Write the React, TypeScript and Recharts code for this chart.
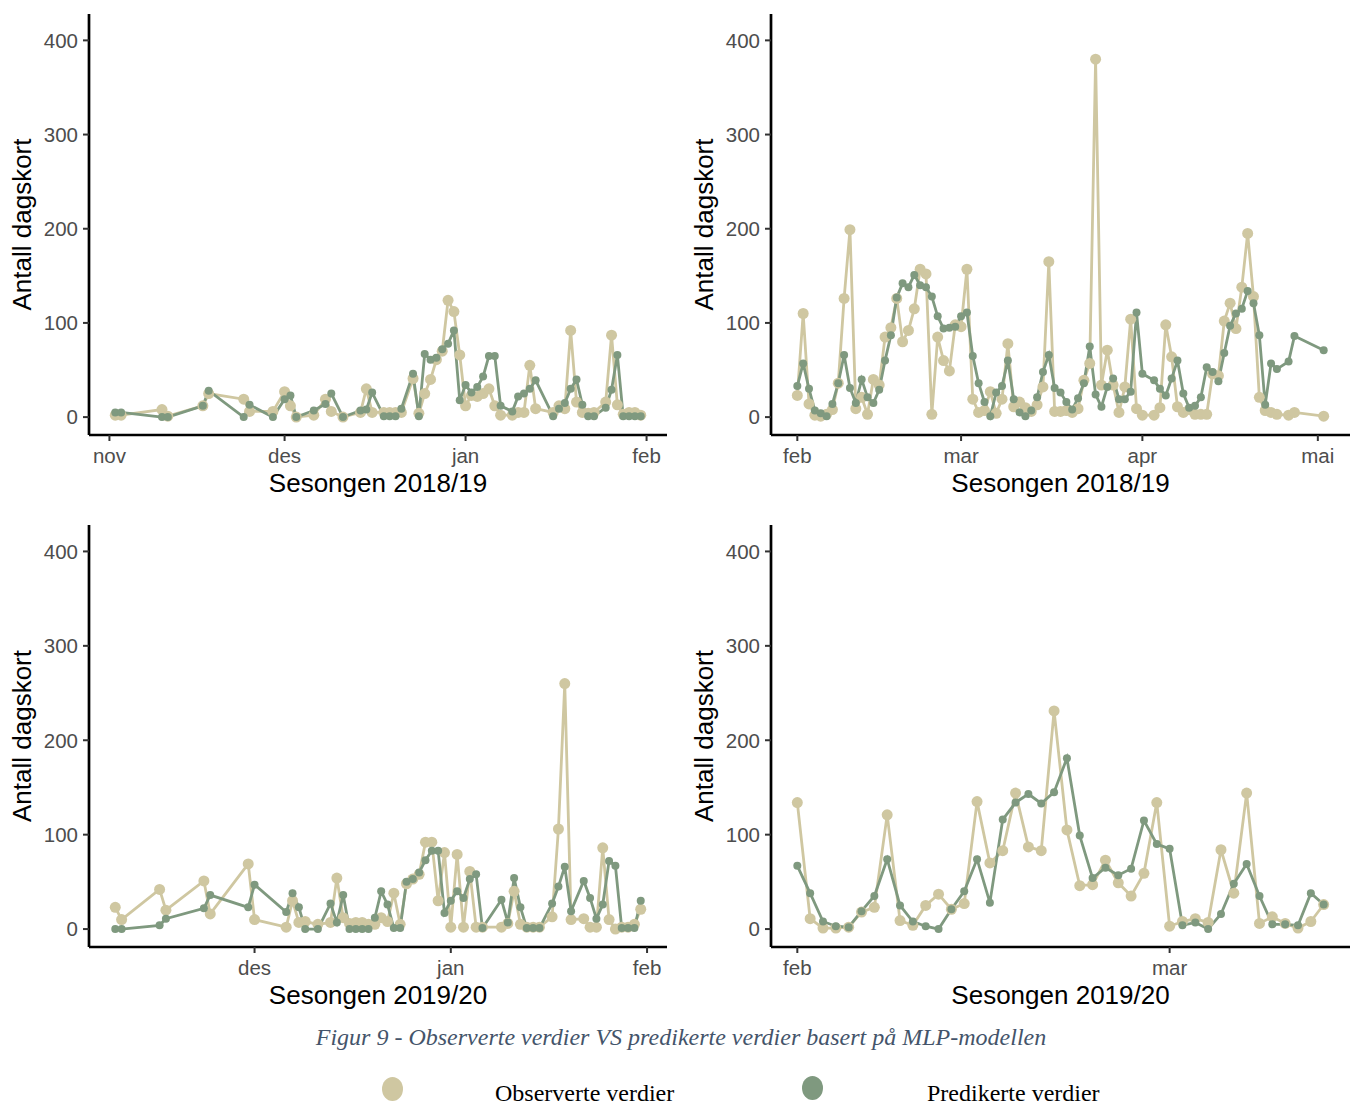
import { LineChart, Line, XAxis, YAxis } from 'recharts'

const OBS = '#cfc7a1'
const PRED = '#7f997f'
const FONT = '"Liberation Sans", Arial, sans-serif'
const SERIF = '"Liberation Serif", "Times New Roman", serif'

const yTicks = [0, 100, 200, 300, 400]

// Sesongen 2018/19, nov-jan (day 0 = 1. nov)
const p1Days = [1, 2, 9, 10, 16, 17, 23, 24, 28, 30, 31, 32, 35, 37, 38, 40, 43, 44, 45, 47, 48, 49, 50, 52, 53, 54, 55, 56, 57, 58, 59, 60, 61, 62, 63, 64, 65, 66, 67, 69, 70, 71, 72, 73, 76, 77, 78, 79, 80, 81, 82, 83, 85, 86, 87, 88, 89, 90, 91]
const p1Obs = [2, 2, 8, 1, 12, 25, 19, 6, 6, 27, 12, 0, 2, 19, 6, 0, 5, 30, 5, 5, 5, 5, 5, 41, 4, 25, 40, 61, 70, 124, 112, 66, 12, 23, 22, 25, 30, 12, 2, 2, 5, 5, 55, 9, 5, 12, 9, 92, 16, 5, 4, 5, 16, 87, 13, 3, 5, 5, 2]
const p1Pred = [5, 5, 0, 0, 12, 28, 0, 13, 0, 19, 23, 0, 7, 14, 25, 0, 7, 8, 26, 1, 1, 1, 9, 46, 1, 67, 61, 63, 72, 78, 92, 18, 34, 26, 32, 43, 65, 65, 12, 6, 22, 25, 30, 39, 1, 9, 15, 30, 40, 13, 1, 1, 10, 29, 66, 1, 1, 1, 1]
const p1Ticks = [0, 30, 61, 92]
const p1Labels = ['nov', 'des', 'jan', 'feb']

// Sesongen 2018/19, feb-apr (day 0 = 1. feb)
const p2Days = [0, 1, 2, 3, 4, 5, 6, 7, 8, 9, 10, 11, 12, 13, 14, 15, 16, 17, 18, 19, 20, 21, 22, 23, 24, 25, 26, 27, 28, 29, 30, 31, 32, 33, 34, 35, 36, 37, 38, 39, 40, 41, 42, 43, 44, 45, 46, 47, 48, 49, 50, 51, 52, 53, 54, 55, 56, 57, 58, 59, 61, 62, 63, 64, 65, 66, 67, 68, 69, 70, 71, 72, 73, 74, 75, 76, 77, 78, 79, 80, 81, 82, 84, 85, 90]
const p2Obs = [23, 110, 14, 2, 1, 3, 8, 36, 126, 199, 9, 21, 3, 40, 34, 85, 95, 126, 80, 92, 115, 157, 152, 3, 85, 60, 49, 98, 96, 157, 19, 5, 7, 27, 4, 19, 78, 11, 16, 10, 6, 13, 32, 165, 6, 6, 7, 5, 9, 39, 57, 380, 34, 71, 34, 5, 32, 104, 9, 2, 2, 10, 98, 64, 11, 5, 8, 3, 3, 3, 46, 44, 102, 121, 94, 138, 195, 128, 21, 7, 5, 3, 2, 5, 1]
const p2Pred = [33, 57, 30, 7, 4, 1, 14, 36, 66, 31, 15, 40, 21, 15, 29, 60, 87, 127, 142, 138, 151, 140, 138, 128, 107, 94, 95, 96, 107, 111, 65, 36, 16, 1, 26, 33, 60, 19, 5, 1, 7, 21, 48, 66, 31, 26, 16, 8, 20, 36, 75, 24, 11, 32, 41, 19, 19, 27, 111, 46, 39, 30, 23, 41, 60, 25, 10, 12, 21, 53, 48, 38, 68, 97, 110, 115, 134, 121, 87, 13, 57, 51, 59, 86, 71]
const p2Ticks = [0, 28, 59, 89]
const p2Labels = ['feb', 'mar', 'apr', 'mai']

// Sesongen 2019/20, nov-jan (day 0 = 1. des)
const p3Days = [-22, -21, -15, -14, -8, -7, -1, 0, 5, 6, 7, 8, 10, 12, 13, 14, 15, 16, 17, 18, 19, 20, 21, 22, 23, 24, 25, 26, 27, 28, 29, 30, 31, 32, 33, 34, 35, 36, 39, 40, 41, 42, 43, 44, 45, 47, 48, 49, 50, 52, 53, 54, 55, 56, 57, 58, 59, 60, 61]
const p3Obs = [23, 10, 42, 20, 51, 16, 69, 10, 2, 30, 7, 8, 5, 7, 54, 12, 6, 7, 7, 5, 5, 12, 8, 38, 5, 48, 53, 58, 92, 92, 30, 81, 2, 79, 2, 61, 2, 2, 2, 6, 40, 5, 2, 2, 2, 13, 106, 260, 10, 11, 2, 2, 86, 10, 0, 2, 2, 5, 21]
const p3Pred = [0, 0, 4, 11, 22, 36, 23, 47, 18, 38, 23, 0, 0, 27, 7, 36, 0, 0, 0, 0, 12, 40, 26, 1, 1, 50, 53, 60, 73, 83, 83, 17, 30, 40, 33, 53, 58, 1, 31, 7, 54, 23, 1, 1, 1, 27, 45, 66, 19, 51, 33, 11, 26, 72, 67, 1, 1, 1, 30]
const p3Ticks = [0, 31, 62]
const p3Labels = ['des', 'jan', 'feb']

// Sesongen 2019/20, feb-mar (day 0 = 1. feb)
const p4Days = [0, 1, 2, 3, 4, 5, 6, 7, 8, 9, 10, 11, 12, 13, 14, 15, 16, 17, 18, 19, 20, 21, 22, 23, 24, 25, 26, 27, 28, 29, 30, 31, 32, 33, 34, 35, 36, 37, 38, 39, 40, 41]
const p4Obs = [134, 11, 1, 1, 2, 18, 23, 121, 9, 4, 25, 37, 21, 27, 135, 70, 83, 144, 87, 83, 231, 105, 46, 47, 73, 49, 35, 59, 134, 3, 8, 11, 7, 84, 38, 144, 6, 13, 6, 1, 8, 26]
const p4Pred = [67, 38, 8, 3, 2, 19, 35, 74, 25, 8, 3, 0, 21, 40, 74, 28, 116, 134, 143, 133, 145, 181, 99, 54, 65, 57, 64, 115, 90, 85, 4, 7, 0, 16, 48, 69, 35, 5, 5, 4, 38, 26]
const p4Ticks = [0, 29]
const p4Labels = ['feb', 'mar']

const toRows = (days: number[], obs: number[], pred: number[]) =>
  days.map((day, i) => ({ day, obs: obs[i], pred: pred[i] }))

interface PanelProps {
  left: number
  top: number
  plotW: number
  plotH: number
  days: number[]
  obs: number[]
  pred: number[]
  ticks: number[]
  labels: string[]
  title: string
}

function Panel({ left, top, plotW, plotH, days, obs, pred, ticks, labels, title }: PanelProps) {
  const rows = toRows(days, obs, pred)
  const span = days[days.length - 1] - days[0]
  const domain = [days[0] - span * 0.05, days[days.length - 1] + span * 0.05]
  return (
    <div style={{ position: 'absolute', left, top }}>
      <LineChart
        width={89 + plotW + 10}
        height={14 + plotH + 62}
        data={rows}
        margin={{ top: 14, right: 10, bottom: 0, left: 0 }}
      >
        <XAxis
          type="number"
          dataKey="day"
          domain={domain}
          ticks={ticks}
          interval={0}
          allowDataOverflow
          height={62}
          tickFormatter={(v: number) => labels[ticks.indexOf(v)]}
          axisLine={{ stroke: '#000', strokeWidth: 2.7 }}
          tickLine={{ stroke: '#333', strokeWidth: 2 }}
          tickSize={6}
          tickMargin={7}
          tick={{ fill: '#4d4d4d', fontSize: 20.5, fontFamily: FONT }}
          label={{ value: title, position: 'insideBottom', offset: 5, fill: '#000', fontSize: 26, fontFamily: FONT }}
        />
        <YAxis
          type="number"
          domain={[-19, 428]}
          ticks={yTicks}
          interval={0}
          allowDataOverflow
          width={89}
          axisLine={{ stroke: '#000', strokeWidth: 2.7 }}
          tickLine={{ stroke: '#333', strokeWidth: 2 }}
          tickSize={6}
          tickMargin={5}
          tick={{ fill: '#4d4d4d', fontSize: 20.5, fontFamily: FONT }}
          label={{
            value: 'Antall dagskort',
            angle: -90,
            position: 'insideLeft',
            offset: 22,
            fill: '#000',
            fontSize: 26,
            fontFamily: FONT,
            style: { textAnchor: 'middle' },
          }}
        />
        <Line
          type="linear"
          dataKey="obs"
          stroke={OBS}
          strokeWidth={2.8}
          dot={{ r: 5.5, fill: OBS, stroke: 'none' }}
          activeDot={false}
          isAnimationActive={false}
        />
        <Line
          type="linear"
          dataKey="pred"
          stroke={PRED}
          strokeWidth={2.8}
          dot={{ r: 4, fill: PRED, stroke: 'none' }}
          activeDot={false}
          isAnimationActive={false}
        />
      </LineChart>
    </div>
  )
}

export default function App() {
  return (
    <div style={{ position: 'absolute', left: 0, top: 0, width: 1355, height: 1107, background: '#fff' }}>
      <Panel left={0} top={0} plotW={578} plotH={421} days={p1Days} obs={p1Obs} pred={p1Pred} ticks={p1Ticks} labels={p1Labels} title="Sesongen 2018/19" />
      <Panel left={682} top={0} plotW={579} plotH={421} days={p2Days} obs={p2Obs} pred={p2Pred} ticks={p2Ticks} labels={p2Labels} title="Sesongen 2018/19" />
      <Panel left={0} top={511} plotW={578} plotH={422} days={p3Days} obs={p3Obs} pred={p3Pred} ticks={p3Ticks} labels={p3Labels} title="Sesongen 2019/20" />
      <Panel left={682} top={511} plotW={579} plotH={422} days={p4Days} obs={p4Obs} pred={p4Pred} ticks={p4Ticks} labels={p4Labels} title="Sesongen 2019/20" />

      <div
        style={{
          position: 'absolute', left: 0, width: 1362, top: 1024, textAlign: 'center',
          fontFamily: SERIF, fontStyle: 'italic', fontSize: 24, color: '#44546a',
        }}
      >
        Figur 9 - Observerte verdier VS predikerte verdier basert på MLP-modellen
      </div>

      <div style={{ position: 'absolute', left: 382, top: 1077, width: 21, height: 24, borderRadius: '50%', background: OBS }} />
      <div style={{ position: 'absolute', left: 495, top: 1080, fontFamily: SERIF, fontSize: 24, color: '#000' }}>
        Observerte verdier
      </div>
      <div style={{ position: 'absolute', left: 802, top: 1076, width: 21, height: 24, borderRadius: '50%', background: PRED }} />
      <div style={{ position: 'absolute', left: 927, top: 1080, fontFamily: SERIF, fontSize: 24, color: '#000' }}>
        Predikerte verdier
      </div>
    </div>
  )
}
